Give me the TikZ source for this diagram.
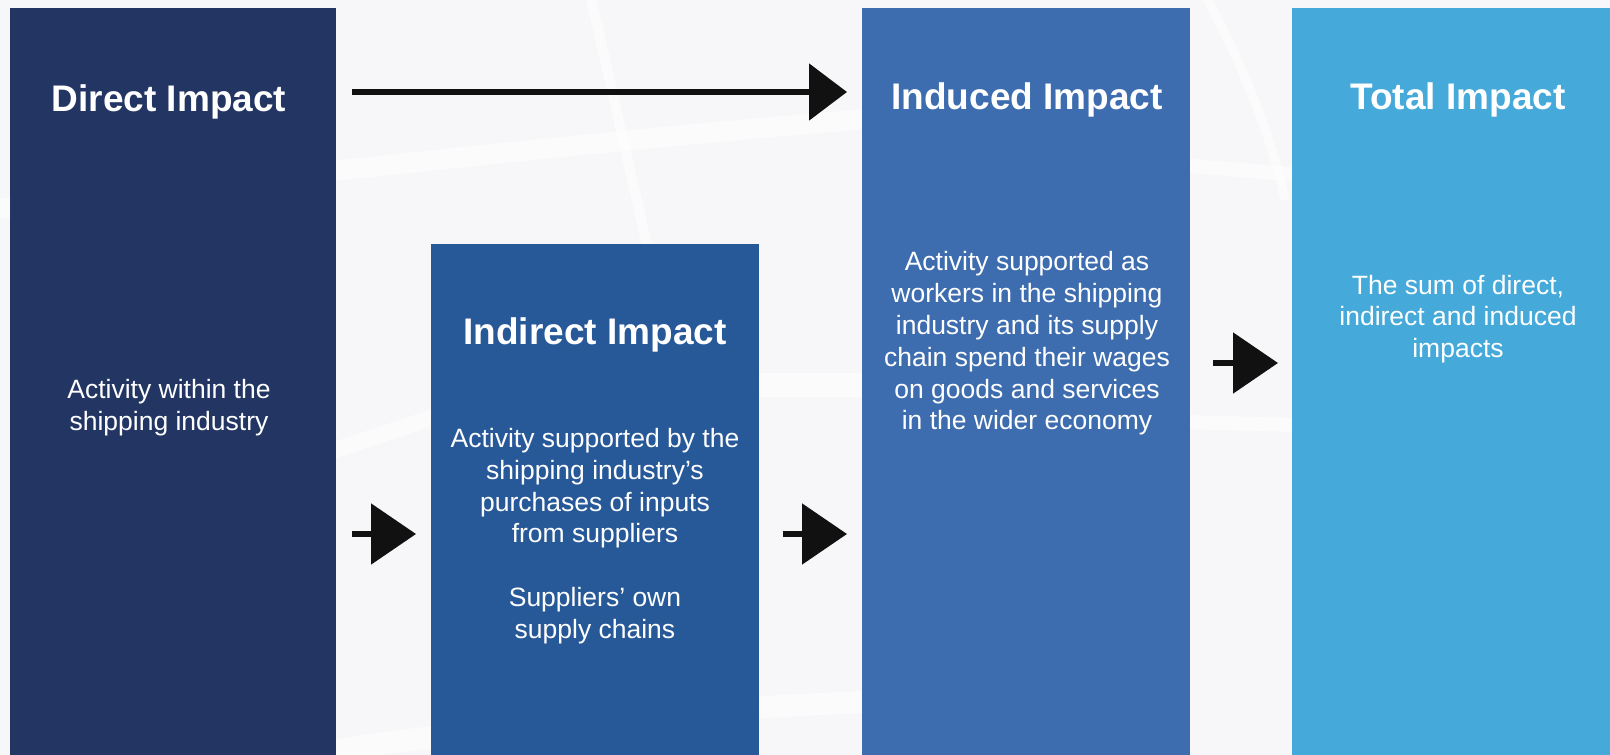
\documentclass[tikz,border=0pt]{standalone}
\usepackage{fontspec}
\setmainfont{Liberation Sans}
\usetikzlibrary{arrows.meta}
\definecolor{bgc}{RGB}{247,247,249}
\definecolor{directc}{RGB}{35,53,99}
\definecolor{indirectc}{RGB}{39,89,152}
\definecolor{inducedc}{RGB}{61,109,174}
\definecolor{totalc}{RGB}{69,169,218}
\definecolor{arrowc}{RGB}{17,17,17}
\begin{document}
\begin{tikzpicture}[x=1pt,y=-1pt,
  panel/.style={fill=#1, draw=none, inner sep=0pt, outer sep=0pt, anchor=north west},
  titletext/.style={text=white, font=\fontsize{37}{44}\selectfont\bfseries, inner sep=0pt},
  bodytext/.style={text=white, font=\fontsize{26.5}{31.8}\selectfont, align=center, inner sep=0pt},
  band/.style={draw=white, line width=#1, opacity=0.6},
  bigarrow/.style={draw=arrowc, line width=5.5pt, -{Triangle[length=45pt,width=60pt]}},
  toparrow/.style={draw=arrowc, line width=5.5pt, -{Triangle[length=38pt,width=56pt]}}]
% background
\fill[bgc] (0,0) rectangle (1610,755);
\useasboundingbox (0,0) rectangle (1610,755);
% faint globe bands
\draw[band=20pt] (-10,210) .. controls (200,185) and (600,140) .. (880,118);
\draw[band=14pt] (1180,165) -- (1300,175);
\draw[band=10pt] (590,-5) .. controls (610,80) and (630,170) .. (648,250);
\draw[band=9pt] (1205,-5) .. controls (1240,60) and (1270,130) .. (1285,200);
\draw[band=16pt] (320,455) -- (440,415);
\draw[band=24pt] (750,385) -- (870,385);
\draw[band=14pt] (1180,422) -- (1300,425);
\draw[band=22pt] (330,752) .. controls (400,737) and (700,707) .. (870,702);
% panels
\node[panel=directc, minimum width=326pt, minimum height=747pt] (direct) at (10,8) {};
\node[panel=indirectc, minimum width=328pt, minimum height=511pt] (indirect) at (431,244) {};
\node[panel=inducedc, minimum width=328pt, minimum height=747pt] (induced) at (862,8) {};
\node[panel=totalc, minimum width=318pt, minimum height=747pt] (total) at (1292,8) {};
% titles
\node[titletext] (directT) at (169,102) {Direct Impact};
\node[titletext] (indirectT) at (595,335) {Indirect Impact};
\node[titletext] (inducedT) at (1027,100) {Induced Impact};
\node[titletext] (totalT) at (1458,100) {Total Impact};
% bodies
\node[bodytext] (directB) at (169,407.5) {Activity within the\\shipping industry};
\node[bodytext] (indirectB) at (595,536) {Activity supported by the\\shipping industry’s\\purchases of inputs\\from suppliers\\[31.8pt]Suppliers’ own\\supply chains};
\node[bodytext] (inducedB) at (1027,343.5) {Activity supported as\\workers in the shipping\\industry and its supply\\chain spend their wages\\on goods and services\\in the wider economy};
\node[bodytext] (totalB) at (1458,319) {The sum of direct,\\indirect and induced\\impacts};
% connectors
\coordinate (rowtop) at (0,92);
\coordinate (rowlow) at (0,534);
\coordinate (rowmid) at (0,363);
\draw[toparrow] ([xshift=16pt]direct.east |- rowtop) -- ([xshift=-15pt]induced.west |- rowtop);
\draw[bigarrow] ([xshift=16pt]direct.east |- rowlow) -- ([xshift=-15pt]indirect.west |- rowlow);
\draw[bigarrow] ([xshift=24pt]indirect.east |- rowlow) -- ([xshift=-15pt]induced.west |- rowlow);
\draw[bigarrow] ([xshift=23pt]induced.east |- rowmid) -- ([xshift=-14pt]total.west |- rowmid);
\end{tikzpicture}
\end{document}
